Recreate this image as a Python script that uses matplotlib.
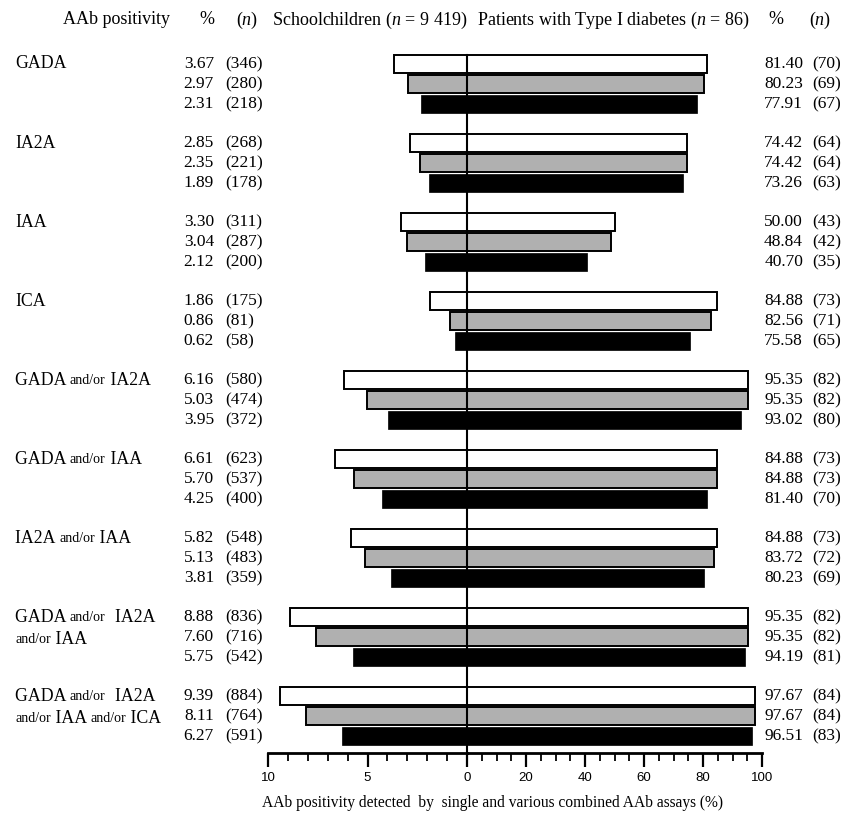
import matplotlib.pyplot as plt
from matplotlib import transforms
import numpy as np

plt.rcParams['font.family'] = ['Liberation Serif', 'DejaVu Serif']
plt.rcParams['mathtext.fontset'] = 'custom'
plt.rcParams['mathtext.rm'] = 'Liberation Serif'
plt.rcParams['mathtext.it'] = 'Liberation Serif:italic'

labels = ["GADA", "IA2A", "IAA", "ICA",
          "GADA and/or IA2A", "GADA and/or IAA", "IA2A and/or IAA",
          "GADA and/or  IA2A\nand/or IAA",
          "GADA and/or  IA2A\nand/or IAA and/or ICA"]

school_pct = [[3.67, 2.97, 2.31], [2.85, 2.35, 1.89], [3.30, 3.04, 2.12],
              [1.86, 0.86, 0.62], [6.16, 5.03, 3.95], [6.61, 5.70, 4.25],
              [5.82, 5.13, 3.81], [8.88, 7.60, 5.75], [9.39, 8.11, 6.27]]
school_n = [[346, 280, 218], [268, 221, 178], [311, 287, 200],
            [175, 81, 58], [580, 474, 372], [623, 537, 400],
            [548, 483, 359], [836, 716, 542], [884, 764, 591]]
patient_pct = [[81.40, 80.23, 77.91], [74.42, 74.42, 73.26], [50.00, 48.84, 40.70],
               [84.88, 82.56, 75.58], [95.35, 95.35, 93.02], [84.88, 84.88, 81.40],
               [84.88, 83.72, 80.23], [95.35, 95.35, 94.19], [97.67, 97.67, 96.51]]
patient_n = [[70, 69, 67], [64, 64, 63], [43, 42, 35],
             [73, 71, 65], [82, 82, 80], [73, 73, 70],
             [73, 72, 69], [82, 82, 81], [84, 84, 83]]

W, H = 846, 816
fig = plt.figure(figsize=(W / 100, H / 100), dpi=100)

def px(x):
    return x / W

# left axes: schoolchildren (10..0), right axes: patients (0..100)
bottom, top = 753, 45
ax_l = fig.add_axes([px(268), (H - bottom) / H, px(467 - 268), (bottom - top) / H])
ax_r = fig.add_axes([px(467), (H - bottom) / H, px(762 - 467), (bottom - top) / H])

step = 20 / 79.06
ylim = ((bottom - 64) / 79.06, (top - 64) / 79.06)
colors = ['white', '#b0b0b0', 'black']
bar_h = 18 / 79.06

sp = np.array(school_pct)
pp = np.array(patient_pct)
for j in range(3):
    y = np.arange(len(labels)) + j * step
    for ax, vals in ((ax_l, sp[:, j]), (ax_r, pp[:, j])):
        ax.barh(y, vals, height=bar_h, color=colors[j], edgecolor='black',
                linewidth=1.4 if j < 2 else 0.5, zorder=2 + j, clip_on=False)

ax_l.set_xlim(10, 0)
ax_r.set_xlim(0, 100)
for ax in (ax_l, ax_r):
    ax.set_ylim(*ylim)
    ax.set_yticks([])
    for s in ('top', 'left', 'right'):
        ax.spines[s].set_visible(False)
    ax.spines['bottom'].set_linewidth(2)
    ax.patch.set_alpha(0)
    ax.tick_params(axis='x', which='major', length=10, width=1.6, direction='out', pad=4,
                   labelsize=9.5, labelfontfamily='Liberation Sans')
    ax.tick_params(axis='x', which='minor', length=6, width=1.3, direction='out')

ax_l.set_xticks([10, 5, 0])
ax_l.set_xticks(np.arange(0, 11, 1), minor=True)
ax_r.set_xticks([20, 40, 60, 80, 100])
ax_r.set_xticks(np.arange(0, 101, 5), minor=True)

# center line
ax_r.plot([0, 0], [ylim[0], -0.12], color='black', lw=1.5, zorder=10, clip_on=False)

tr = transforms.blended_transform_factory(fig.transFigure, ax_r.transData)
fs_lab = 12.8
fs_small = 10
fs_num = 12.5
fs_head = 13
fig.canvas.draw()
renderer = fig.canvas.get_renderer()

def draw_label(x, y, line):
    # "and/or" is set in a smaller type than the antibody names
    cur = x
    for w in line.replace('and/or', '|and/or|').split('|'):
        if w == '':
            continue
        size = fs_small if w == 'and/or' else fs_lab
        t = fig.text(cur, y, w, fontsize=size, va='center', ha='left', transform=tr)
        cur = cur + t.get_window_extent(renderer).width / W

for g, lab in enumerate(labels):
    for li, line in enumerate(lab.split('\n')):
        draw_label(px(15), g + li * step * 1.08, line)
    for j in range(3):
        y = g + j * step
        fig.text(px(214), y, '%.2f' % school_pct[g][j], fontsize=fs_num, ha='right', va='center', transform=tr)
        fig.text(px(225), y, '(%d)' % school_n[g][j], fontsize=fs_num, ha='left', va='center', transform=tr)
        fig.text(px(803), y, '%.2f' % patient_pct[g][j], fontsize=fs_num, ha='right', va='center', transform=tr)
        fig.text(px(812), y, '(%d)' % patient_n[g][j], fontsize=fs_num, ha='left', va='center', transform=tr)

hy = 1 - 20 / H
fig.text(px(63), hy, 'AAb positivity', fontsize=fs_head, va='center')
fig.text(px(207), hy, '%', fontsize=fs_head, va='center', ha='center')
fig.text(px(247), hy, '($n$)', fontsize=fs_head, va='center', ha='center')
fig.text(px(467), hy, 'Schoolchildren ($n$ = 9 419)', fontsize=fs_head, va='center', ha='right')
fig.text(px(477), hy, 'Patients with Type I diabetes ($n$ = 86)', fontsize=fs_head, va='center', ha='left')
fig.text(px(776), hy, '%', fontsize=fs_head, va='center', ha='center')
fig.text(px(820), hy, '($n$)', fontsize=fs_head, va='center', ha='center')

fig.text(px(492), 1 - 803 / H,
         'AAb positivity detected  by  single and various combined AAb assays (%)',
         fontsize=11.2, ha='center', va='center')

fig.savefig('out.png', dpi=100)
